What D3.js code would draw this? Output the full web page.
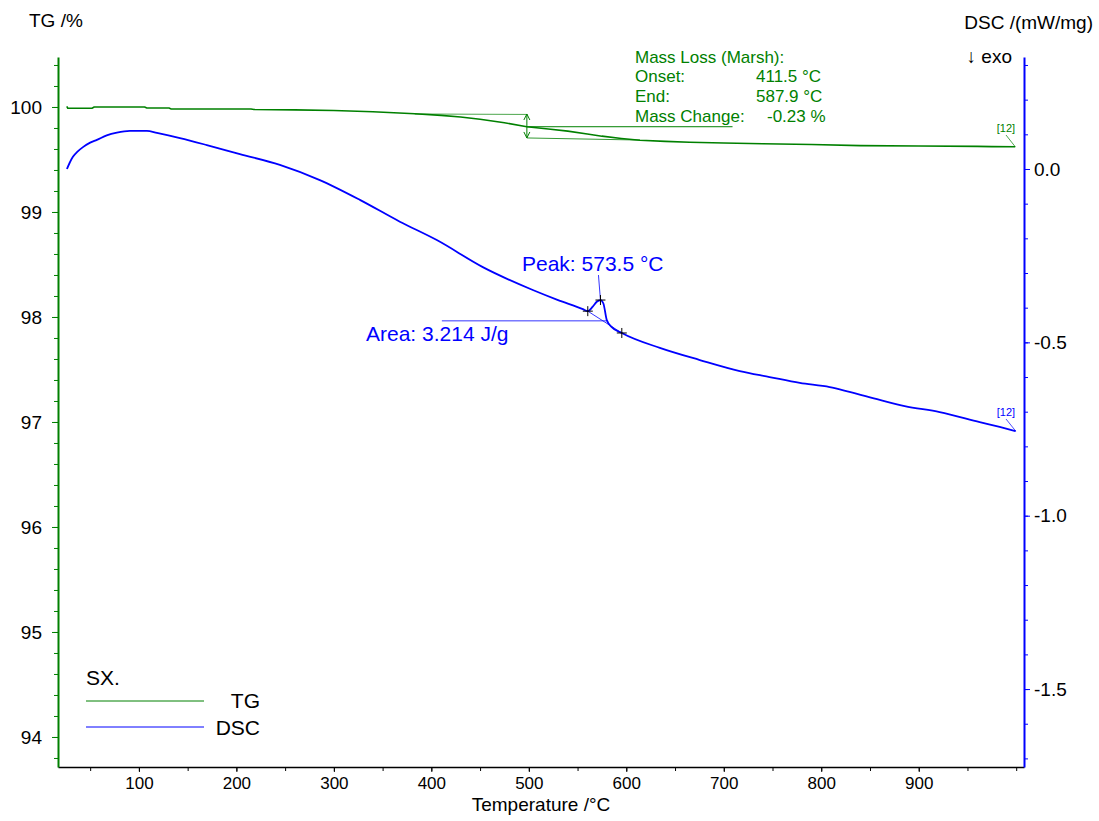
<!DOCTYPE html>
<html>
<head>
<meta charset="utf-8">
<script src="https://cdn.jsdelivr.net/npm/d3@7"></script>
<style>
  html, body { margin: 0; padding: 0; background: #fff; }
  svg text { font-family: "Liberation Sans", Arial, sans-serif; }
</style>
</head>
<body>
<svg id="chart" width="1099" height="821"></svg>
<script>
// ---------------- DATA ----------------
const tgTemp  = [26, 27, 52, 54, 106, 108, 131, 133, 215, 218, 260, 300, 340, 383, 410, 430, 450, 475, 498, 520, 540, 560, 575, 595, 614, 640, 665, 700, 740, 790, 840, 900, 960, 975, 999];
const tgValue = [100.005, 99.988, 99.988, 100.0, 100.0, 99.99, 99.99, 99.981, 99.981, 99.976, 99.972, 99.966, 99.955, 99.935, 99.92, 99.905, 99.883, 99.85, 99.812, 99.79, 99.77, 99.742, 99.722, 99.700, 99.683, 99.672, 99.664, 99.657, 99.650, 99.642, 99.632, 99.628, 99.625, 99.622, 99.621];

const dscTemp  = [26.2, 29, 32.3, 37, 42.6, 50, 56.9, 67, 77.4, 90.8, 108.2, 118.5, 142.1, 169.7, 203.6, 244.6, 285.6, 326.7, 367.7, 405.6, 452.8, 504.1, 530, 555.4, 560.5, 565.6, 569.7, 573.5, 576.5, 580, 585.1, 595.4, 634.4, 675.4, 716.4, 747, 778, 808.7, 829, 860, 885.6, 921.5, 962.6, 983, 999.5];
const dscValue = [0.000, 0.018, 0.035, 0.050, 0.063, 0.076, 0.084, 0.097, 0.105, 0.110, 0.110, 0.104, 0.089, 0.069, 0.043, 0.012, -0.032, -0.089, -0.152, -0.205, -0.283, -0.349, -0.378, -0.404, -0.410, -0.397, -0.383, -0.378, -0.388, -0.436, -0.456, -0.473, -0.516, -0.551, -0.583, -0.600, -0.617, -0.629, -0.643, -0.666, -0.684, -0.701, -0.730, -0.744, -0.756];

const xTicks      = [100, 200, 300, 400, 500, 600, 700, 800, 900];
const xMinorTicks = d3.range(50, 1001, 50);
const tgTicks     = [94, 95, 96, 97, 98, 99, 100];
const tgMinorTicks = d3.range(93.8, 100.45, 0.2);
const dscTicks    = [0.0, -0.5, -1.0, -1.5];
const dscTickLabels = ["0.0", "-0.5", "-1.0", "-1.5"];
const dscMinorTicks = d3.range(-1.7, 0.35, 0.1);

// analysis results
const marsh = { onset: 411.5, end: 587.9, change: -0.23, upper: 99.933, lower: 99.705, mid: 498, upperStart: 383, lowerEnd: 614, leaderEnd: 709 };
const peak  = { temp: 573.5, onsetT: 560.5, endT: 595.4, area: 3.214, areaLineDSC: -0.438, areaLineStart: 410.8, areaLineEnd: 580 };
const legendItems = ["TG", "DSC"];

// ---------------- SCALES ----------------
const svg = d3.select("#chart");
const green = "#008000", blue = "#0000ff";
const x = d3.scaleLinear().domain([17, 1008]).range([58, 1024]);
const yTG = d3.scaleLinear().domain([93.714, 100.476]).range([767, 57]);
const yDSC = d3.scaleLinear().domain([-1.7248, 0.323]).range([767, 57]);

// ---------------- AXES ----------------
// bottom
const gx = svg.append("g").attr("transform", "translate(0,767)");
gx.call(d3.axisBottom(x).tickValues(xMinorTicks.filter(v => v > 17 && v < 1008)).tickSize(4).tickFormat("").tickSizeOuter(0));
gx.call(g => g.select(".domain").remove());
const gx2 = svg.append("g").attr("transform", "translate(0,767)");
gx2.call(d3.axisBottom(x).tickValues(xTicks).tickSize(5).tickPadding(5).tickSizeOuter(0));
gx2.select(".domain").attr("stroke", "#000").attr("stroke-width", 1.5);
gx2.selectAll("text").attr("font-size", 17).attr("fill", "#000");

// left
const gl = svg.append("g").attr("transform", "translate(58,0)");
gl.call(d3.axisLeft(yTG).tickValues(tgMinorTicks).tickSize(4).tickFormat("").tickSizeOuter(0));
gl.select(".domain").remove();
gl.selectAll("line").attr("stroke", green);
const gl2 = svg.append("g").attr("transform", "translate(58,0)");
gl2.call(d3.axisLeft(yTG).tickValues(tgTicks).tickSize(6).tickPadding(10).tickSizeOuter(0).tickFormat(d3.format("d")));
gl2.select(".domain").attr("stroke", green).attr("stroke-width", 2);
gl2.selectAll("line").attr("stroke", green);
gl2.selectAll("text").attr("font-size", 19).attr("fill", "#000");

// right
const gr = svg.append("g").attr("transform", "translate(1024,0)");
gr.call(d3.axisRight(yDSC).tickValues(dscMinorTicks).tickSize(4).tickFormat("").tickSizeOuter(0));
gr.select(".domain").remove();
gr.selectAll("line").attr("stroke", blue);
const gr2 = svg.append("g").attr("transform", "translate(1024,0)");
gr2.call(d3.axisRight(yDSC).tickValues(dscTicks).tickSize(6).tickPadding(4).tickSizeOuter(0).tickFormat((d, i) => dscTickLabels[i]));
gr2.select(".domain").attr("stroke", blue).attr("stroke-width", 2);
gr2.selectAll("line").attr("stroke", blue);
gr2.selectAll("text").attr("font-size", 19).attr("fill", "#000");

// titles
svg.append("text").attr("x", 29).attr("y", 27).attr("font-size", 19).text("TG /%");
svg.append("text").attr("x", 1093).attr("y", 29).attr("font-size", 19).attr("text-anchor", "end").text("DSC /(mW/mg)");
svg.append("text").attr("x", 1012).attr("y", 63).attr("font-size", 19).attr("text-anchor", "end").text("\u2193 exo");
svg.append("text").attr("x", 541).attr("y", 811).attr("font-size", 19).attr("text-anchor", "middle").text("Temperature /\u00B0C");

// ---------------- CURVES ----------------
const tgData = tgTemp.map((t, i) => [t, tgValue[i]]);
const dscData = dscTemp.map((t, i) => [t, dscValue[i]]);

svg.append("path").datum(tgData)
  .attr("fill", "none").attr("stroke", green).attr("stroke-width", 1.6)
  .attr("d", d3.line().x(d => x(d[0])).y(d => yTG(d[1])));

svg.append("path").datum(dscData)
  .attr("fill", "none").attr("stroke", blue).attr("stroke-width", 1.8)
  .attr("d", d3.line().x(d => x(d[0])).y(d => yDSC(d[1])).curve(d3.curveMonotoneX));

// ---------------- TG ANNOTATION (Marsh) ----------------
const tgAt = t => { const i = d3.bisectLeft(tgTemp, t); if (i <= 0) return tgValue[0]; const t0 = tgTemp[i-1], t1 = tgTemp[i]; return tgValue[i-1] + (tgValue[i]-tgValue[i-1]) * (t - t0) / (t1 - t0); };
const ann = svg.append("g").attr("stroke", green).attr("fill", "none").attr("stroke-width", 1);
ann.append("line").attr("x1", x(marsh.upperStart)).attr("y1", yTG(marsh.upper)).attr("x2", x(marsh.mid)).attr("y2", yTG(marsh.upper - 0.004)).attr("stroke-opacity", 0.7);
ann.append("line").attr("x1", x(marsh.mid)).attr("y1", yTG(marsh.lower)).attr("x2", x(marsh.lowerEnd)).attr("y2", yTG(marsh.lower - 0.02)).attr("stroke-opacity", 0.8);
ann.append("line").attr("x1", x(marsh.mid)).attr("y1", yTG(marsh.upper)).attr("x2", x(marsh.mid)).attr("y2", yTG(marsh.lower));
const ax = x(marsh.mid), ayT = yTG(marsh.upper), ayB = yTG(marsh.lower);
ann.append("path").attr("d", `M${ax-3},${ayT+6}L${ax},${ayT}L${ax+3},${ayT+6}`);
ann.append("path").attr("d", `M${ax-3},${ayB-6}L${ax},${ayB}L${ax+3},${ayB-6}`);
const midTG = tgAt(marsh.mid);
ann.append("line").attr("x1", x(marsh.mid)).attr("y1", yTG(midTG)).attr("x2", x(marsh.leaderEnd)).attr("y2", yTG(midTG));

const annText = svg.append("g").attr("fill", green).attr("font-size", 17);
annText.append("text").attr("x", 635).attr("y", 63).text("Mass Loss (Marsh):");
annText.append("text").attr("x", 635).attr("y", 82).text("Onset:");
annText.append("text").attr("x", 756).attr("y", 82).text(`${marsh.onset.toFixed(1)} \u00B0C`);
annText.append("text").attr("x", 635).attr("y", 102).text("End:");
annText.append("text").attr("x", 756).attr("y", 102).text(`${marsh.end.toFixed(1)} \u00B0C`);
annText.append("text").attr("x", 635).attr("y", 122).text("Mass Change:");
annText.append("text").attr("x", 767).attr("y", 122).text(`${marsh.change.toFixed(2)} %`);

// [12] labels
const lastTG = tgData[tgData.length - 1], lastDSC = dscData[dscData.length - 1];
svg.append("text").attr("x", 1006).attr("y", 132).attr("font-size", 11).attr("fill", green).attr("text-anchor", "middle").text("[12]");
svg.append("line").attr("x1", 1006).attr("y1", 135).attr("x2", x(lastTG[0])).attr("y2", yTG(lastTG[1])).attr("stroke", green).attr("stroke-width", 0.7);
svg.append("text").attr("x", 1006).attr("y", 416).attr("font-size", 11).attr("fill", blue).attr("text-anchor", "middle").text("[12]");
svg.append("line").attr("x1", 1006).attr("y1", 419).attr("x2", x(lastDSC[0])).attr("y2", yDSC(lastDSC[1])).attr("stroke", blue).attr("stroke-width", 0.7);

// ---------------- DSC PEAK ANNOTATION ----------------
const dscAt = t => dscValue[dscTemp.indexOf(t)];
const pk = [x(peak.temp), yDSC(dscAt(peak.temp))];
const po = [x(peak.onsetT), yDSC(dscAt(peak.onsetT))];
const pe = [x(peak.endT), yDSC(dscAt(peak.endT))];
const pa = svg.append("g");
pa.append("line").attr("x1", po[0]).attr("y1", po[1]).attr("x2", pe[0]).attr("y2", pe[1]).attr("stroke", blue).attr("stroke-width", 0.8);
pa.append("line").attr("x1", x(peak.areaLineStart)).attr("y1", yDSC(peak.areaLineDSC)).attr("x2", x(peak.areaLineEnd)).attr("y2", yDSC(peak.areaLineDSC)).attr("stroke", blue).attr("stroke-width", 1).attr("stroke-opacity", 0.8);
pa.append("line").attr("x1", pk[0]).attr("y1", pk[1]).attr("x2", pk[0] - 2).attr("y2", pk[1] - 25).attr("stroke", blue).attr("stroke-width", 0.8);
[po, pk, pe].forEach(p => {
  pa.append("path").attr("d", `M${p[0]-5},${p[1]}H${p[0]+5}M${p[0]},${p[1]-5}V${p[1]+5}`).attr("stroke", "#000").attr("stroke-width", 1);
});
svg.append("text").attr("x", 522).attr("y", 271).attr("font-size", 21).attr("fill", blue).text(`Peak: ${peak.temp.toFixed(1)} \u00B0C`);
svg.append("text").attr("x", 366).attr("y", 341).attr("font-size", 21).attr("fill", blue).text(`Area: ${peak.area.toFixed(3)} J/g`);

// ---------------- LEGEND ----------------
svg.append("text").attr("x", 86).attr("y", 685).attr("font-size", 21).text("SX.");
const lg = svg.append("g");
[[legendItems[0], green, 701, 708], [legendItems[1], blue, 727, 735]].forEach(([name, c, ly, ty]) => {
  lg.append("line").attr("x1", 86).attr("x2", 204).attr("y1", ly).attr("y2", ly).attr("stroke", c).attr("stroke-width", 1);
  lg.append("text").attr("x", 260).attr("y", ty).attr("font-size", 21).attr("text-anchor", "end").text(name);
});
</script>
</body>
</html>
